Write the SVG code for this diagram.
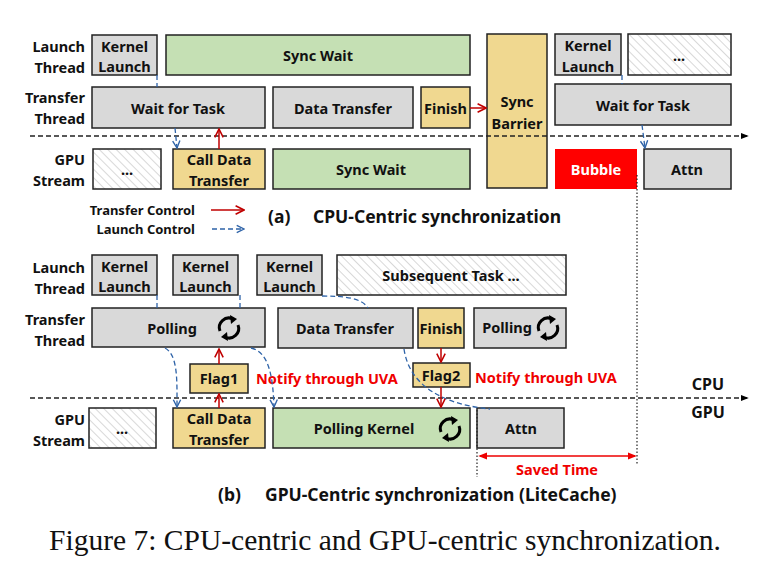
<svg xmlns="http://www.w3.org/2000/svg" width="770" height="579" viewBox="0 0 770 579">
<defs>
<pattern id="hatch" width="6" height="6" patternUnits="userSpaceOnUse" patternTransform="rotate(-45)">
<rect width="6" height="6" fill="#fff"/><line x1="0" y1="0" x2="0" y2="6" stroke="#ccc" stroke-width="1.5"/>
</pattern>
<marker id="ra" viewBox="0 0 10 10" refX="9" refY="5" markerWidth="7" markerHeight="7" orient="auto-start-reverse"><path d="M1,1 L9,5 L1,9" fill="none" stroke="#c00000" stroke-width="1.5"/></marker>
<marker id="ba" viewBox="0 0 10 10" refX="9" refY="5" markerWidth="7" markerHeight="7" orient="auto"><path d="M1,1 L9,5 L1,9" fill="none" stroke="#2e63a8" stroke-width="1.5"/></marker>
<marker id="ka" viewBox="0 0 10 10" refX="9" refY="5" markerWidth="6" markerHeight="6" orient="auto"><path d="M0,1 L10,5 L0,9 z" fill="#000"/></marker>
<marker id="sa" viewBox="0 0 10 10" refX="8" refY="5" markerWidth="6" markerHeight="6" orient="auto-start-reverse"><path d="M0,1 L10,5 L0,9 z" fill="#e00"/></marker>
<g id="cyc"><path d="M-9,3 A9.5,9.5 0 0 1 4,-9" fill="none" stroke="#000" stroke-width="3"/><path d="M1,-13 L8,-9 L2,-4 z" fill="#000"/><path d="M9,-3 A9.5,9.5 0 0 1 -4,9" fill="none" stroke="#000" stroke-width="3"/><path d="M-1,13 L-8,9 L-2,4 z" fill="#000"/></g>
</defs>
<style>
text{font-family:"Noto Sans","Open Sans",sans-serif;font-weight:bold;font-size:14.5px;text-anchor:middle;dominant-baseline:central;fill:#111}
.lb{text-anchor:end}
.g{fill:#d9d9d9;stroke:#222;stroke-width:1.5}
.gr{fill:#c5e0b4;stroke:#222;stroke-width:1.5}
.y{fill:#f0d890;stroke:#222;stroke-width:1.5}
.h{fill:url(#hatch);stroke:#222;stroke-width:1.5}
.r{fill:#ff0000;stroke:none}
.red{stroke:#c00000;stroke-width:1.5;fill:none}
.blu{stroke:#2e63a8;stroke-width:1.3;fill:none;stroke-dasharray:5,3}
.ax{stroke:#222;stroke-width:1.3;stroke-dasharray:5,3}
.dot{stroke:#222;stroke-width:1.2;stroke-dasharray:1.5,2}
.rt{fill:#f00000}
.sm{font-size:13px}
.tt{font-size:17.5px;text-anchor:start}
</style>
<g id="labels">
<text class="lb" x="85" y="46">Launch</text><text class="lb" x="85" y="67">Thread</text>
<text class="lb" x="85" y="97">Transfer</text><text class="lb" x="85" y="118">Thread</text>
<text class="lb" x="85" y="159">GPU</text><text class="lb" x="85" y="180">Stream</text>
<text class="lb" x="85" y="267">Launch</text><text class="lb" x="85" y="288">Thread</text>
<text class="lb" x="85" y="319">Transfer</text><text class="lb" x="85" y="340">Thread</text>
<text class="lb" x="85" y="419">GPU</text><text class="lb" x="85" y="440">Stream</text>
<text x="708" y="384" style="font-size:16px">CPU</text><text x="708" y="412" style="font-size:16px">GPU</text>
</g>
<g id="a-kl1"><rect class="g" x="92" y="35" width="65" height="40"/><text x="124.5" y="46">Kernel</text><text x="124.5" y="66">Launch</text></g>
<g id="a-sw1"><rect class="gr" x="166" y="35" width="304" height="40"/><text x="318" y="55">Sync Wait</text></g>
<g id="a-sb"><rect class="y" x="487" y="34" width="60" height="154"/><text x="517" y="101">Sync</text><text x="517" y="123">Barrier</text></g>
<g id="a-kl2"><rect class="g" x="555" y="34" width="66" height="41"/><text x="588" y="45">Kernel</text><text x="588" y="66">Launch</text></g>
<g id="a-h1"><rect class="h" x="628" y="34" width="103" height="41"/><text x="679" y="55">...</text></g>
<g id="a-wt1"><rect class="g" x="92" y="87" width="173" height="41"/><text x="178" y="108">Wait for Task</text></g>
<g id="a-dt"><rect class="g" x="273" y="87" width="140" height="41"/><text x="343" y="108">Data Transfer</text></g>
<g id="a-fin"><rect class="y" x="421" y="87" width="49" height="41"/><text x="445.5" y="108">Finish</text></g>
<g id="a-wt2"><rect class="g" x="555" y="84" width="176" height="41"/><text x="643" y="105">Wait for Task</text></g>
<g id="a-h2"><rect class="h" x="93" y="149" width="68" height="40"/><text x="127" y="169">...</text></g>
<g id="a-cdt"><rect class="y" x="173" y="149" width="92" height="40"/><text x="219" y="159">Call Data</text><text x="219" y="180">Transfer</text></g>
<g id="a-sw2"><rect class="gr" x="273" y="149" width="197" height="40"/><text x="371" y="169">Sync Wait</text></g>
<g id="a-bub"><rect class="r" x="555" y="149" width="82" height="40"/><text x="596" y="169" style="fill:#fff">Bubble</text></g>
<g id="a-attn"><rect class="g" x="644" y="149" width="87" height="40"/><text x="687" y="169">Attn</text></g>
<g id="legend">
<text class="sm" x="195" y="210" style="text-anchor:end">Transfer Control</text>
<text class="sm" x="195" y="229" style="text-anchor:end">Launch Control</text>
<line class="red" x1="211" y1="210" x2="244" y2="210" marker-end="url(#ra)"/>
<line class="blu" x1="212" y1="229" x2="244" y2="229" marker-end="url(#ba)"/>
</g>
<text class="tt" x="268" y="216">(a)</text><text class="tt" x="313" y="216">CPU-Centric synchronization</text>
<g id="b-kl1"><rect class="g" x="92" y="255" width="65" height="40"/><text x="124.5" y="266">Kernel</text><text x="124.5" y="286">Launch</text></g>
<g id="b-kl2"><rect class="g" x="173" y="255" width="65" height="40"/><text x="205.5" y="266">Kernel</text><text x="205.5" y="286">Launch</text></g>
<g id="b-kl3"><rect class="g" x="257" y="255" width="65" height="40"/><text x="289.5" y="266">Kernel</text><text x="289.5" y="286">Launch</text></g>
<g id="b-sub"><rect class="h" x="337" y="255" width="229" height="40"/><text x="451" y="275">Subsequent Task ...</text></g>
<g id="b-pol"><rect class="g" x="92" y="308" width="173" height="39"/><text x="172" y="328">Polling</text><use href="#cyc" x="229" y="328"/></g>
<g id="b-dt"><rect class="g" x="278" y="308" width="135" height="40"/><text x="345" y="328">Data Transfer</text></g>
<g id="b-fin"><rect class="y" x="418" y="308" width="46" height="40"/><text x="441" y="328">Finish</text></g>
<g id="b-pol2"><rect class="g" x="474" y="308" width="92" height="40"/><text x="507" y="327">Polling</text><use href="#cyc" x="548" y="328"/></g>
<g id="b-f1"><rect class="y" x="190" y="364" width="58" height="29"/><text x="219" y="378">Flag1</text></g>
<g id="b-f2"><rect class="y" x="413" y="363" width="57" height="24"/><text x="441" y="375">Flag2</text></g>
<text class="rt" x="256" y="378" style="text-anchor:start">Notify through UVA</text>
<text class="rt" x="475" y="377" style="text-anchor:start">Notify through UVA</text>
<g id="b-h"><rect class="h" x="89" y="408" width="67" height="40"/><text x="122" y="428">...</text></g>
<g id="b-cdt"><rect class="y" x="173" y="408" width="92" height="40"/><text x="219" y="418">Call Data</text><text x="219" y="439">Transfer</text></g>
<g id="b-pk"><rect class="gr" x="273" y="408" width="197" height="40"/><text x="364" y="428">Polling Kernel</text><use href="#cyc" x="450" y="429"/></g>
<g id="b-attn"><rect class="g" x="477" y="408" width="87" height="40"/><text x="521" y="428">Attn</text></g>
<text class="tt" x="218" y="494">(b)</text><text class="tt" x="265" y="494">GPU-Centric synchronization (LiteCache)</text>
<text class="rt" x="557" y="469">Saved Time</text>
<text x="385" y="540" style="font-family:'Liberation Serif',serif;font-weight:normal;font-size:29.5px">Figure 7: CPU-centric and GPU-centric synchronization.</text>
<g id="connectors">
<line class="ax" x1="30" y1="136" x2="748" y2="136" marker-end="url(#ka)"/>
<line class="ax" x1="30" y1="398" x2="748" y2="398" marker-end="url(#ka)"/>
<line class="dot" x1="637" y1="175" x2="637" y2="465"/>
<line class="dot" x1="477" y1="410" x2="477" y2="477"/>
<line x1="480" y1="456" x2="635" y2="456" stroke="#e00" stroke-width="1.5" marker-start="url(#sa)" marker-end="url(#sa)"/>
<line class="blu" x1="157" y1="75" x2="157" y2="87"/>
<line class="blu" x1="175" y1="128" x2="177" y2="148" marker-end="url(#ba)"/>
<line class="blu" x1="622" y1="75" x2="622" y2="84"/>
<line class="blu" x1="642" y1="125" x2="645" y2="148" marker-end="url(#ba)"/>
<line class="red" x1="219" y1="149" x2="219" y2="129" marker-end="url(#ra)"/>
<line class="red" x1="470" y1="108" x2="486" y2="108" marker-end="url(#ra)"/>
<line class="blu" x1="157" y1="295" x2="157" y2="308"/>
<line class="blu" x1="240" y1="295" x2="240" y2="308"/>
<path class="blu" d="M165,348 C178,355 177,380 177,407" marker-end="url(#ba)"/>
<path class="blu" d="M251,348 C270,352 273,380 274,407" marker-end="url(#ba)"/>
<path class="blu" d="M322,296 C345,296 362,298 368,308"/>
<path class="blu" d="M404,349 C410,390 450,405 490,409"/>
<line class="red" x1="219" y1="364" x2="219" y2="349" marker-end="url(#ra)"/>
<line class="red" x1="219" y1="408" x2="219" y2="394" marker-end="url(#ra)"/>
<line class="red" x1="441" y1="348" x2="441" y2="362" marker-end="url(#ra)"/>
<line class="red" x1="441" y1="387" x2="441" y2="407" marker-end="url(#ra)"/>
</g>
</svg>
